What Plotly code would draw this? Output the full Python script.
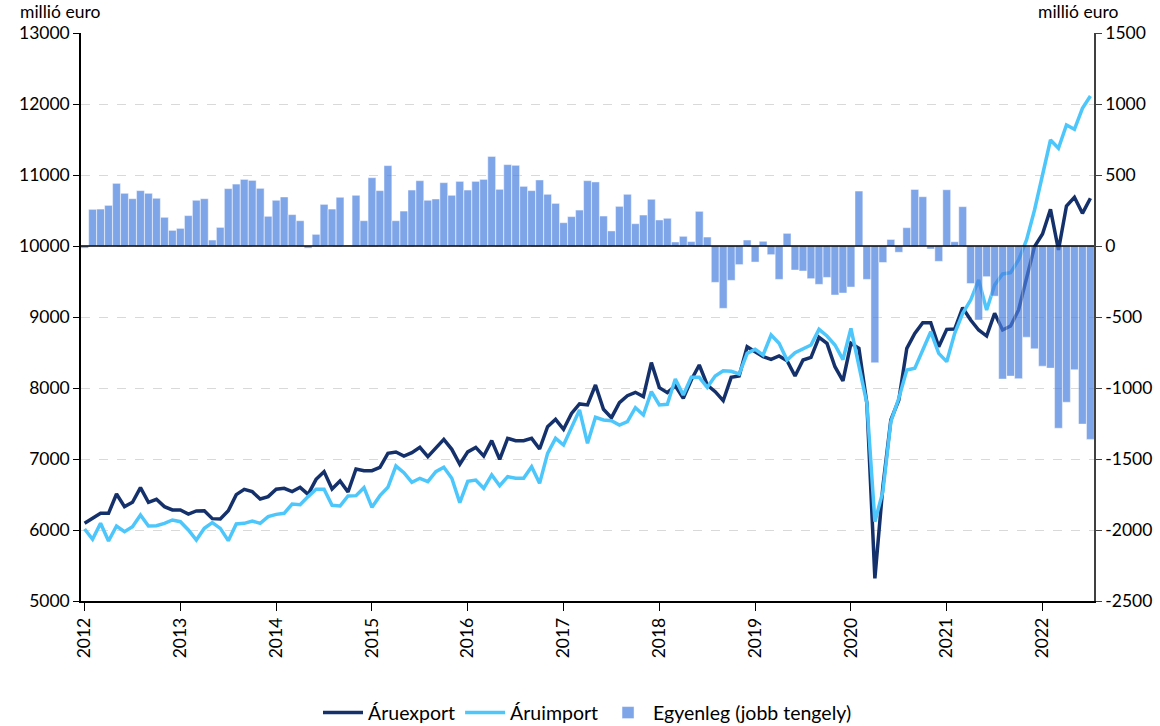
import plotly.graph_objects as go

years = [str(y) for y in range(2012, 2023)]

export = [6094, 6160, 6235, 6235, 6507, 6329, 6390, 6596, 6390, 6432, 6329, 6282,
          6282, 6225, 6268, 6270, 6160, 6155, 6270, 6498, 6573, 6540, 6437, 6470,
          6575, 6587, 6540, 6601, 6502, 6714, 6822, 6577, 6690, 6535, 6859, 6835,
          6835, 6883, 7080, 7099, 7042, 7089, 7164, 7033, 7150, 7277, 7136, 6925,
          7100, 7164, 7042, 7258, 6995, 7291, 7258, 7258, 7291, 7141, 7455, 7559,
          7418, 7643, 7775, 7761, 8042, 7700, 7582, 7794, 7892, 7939, 7878, 8357,
          8005, 7934, 8030, 7855, 8113, 8324, 8042, 7948, 7821, 8150, 8169, 8582,
          8512, 8441, 8404, 8451, 8385, 8169, 8394, 8432, 8714, 8629, 8300, 8100,
          8629, 8559, 7784, 5319, 6610, 7549, 7831, 8559, 8770, 8920, 8920, 8582,
          8826, 8830, 9131, 8958, 8817, 8732, 9052, 8817, 8873, 9099, 9545, 9991,
          10169, 10517, 9944, 10563, 10686, 10460, 10672]

imports = [6014, 5869, 6094, 5845, 6056, 5977, 6047, 6211, 6056, 6060, 6094, 6141,
           6117, 6000, 5859, 6023, 6103, 6023, 5850, 6085, 6094, 6127, 6094, 6188,
           6220, 6235, 6366, 6357, 6470, 6573, 6573, 6347, 6338, 6479, 6484, 6596,
           6319, 6484, 6601, 6901, 6808, 6671, 6728, 6681, 6822, 6883, 6728, 6385,
           6685, 6704, 6587, 6775, 6624, 6751, 6728, 6728, 6892, 6657, 7080, 7291,
           7197, 7432, 7690, 7221, 7587, 7549, 7540, 7479, 7526, 7723, 7620, 7948,
           7761, 7770, 8127, 7901, 8150, 8150, 8010, 8169, 8244, 8235, 8197, 8488,
           8545, 8465, 8746, 8629, 8394, 8497, 8545, 8606, 8826, 8732, 8606, 8400,
           8840, 8300, 7784, 6117, 6540, 7525, 7855, 8254, 8277, 8535, 8793, 8488,
           8371, 8770, 9052, 9239, 9521, 9099, 9451, 9606, 9624, 9803, 10085, 10507,
           11000, 11493, 11376, 11704, 11643, 11939, 12113]

balance = [-15, 258, 260, 286, 441, 371, 333, 390, 371, 336, 202, 110,
           124, 214, 322, 333, 42, 131, 404, 436, 469, 462, 406, 209,
           322, 345, 221, 178, -15, 82, 293, 260, 343, 5, 357, 178,
           481, 390, 566, 178, 246, 394, 460, 322, 331, 446, 357, 455,
           394, 455, 469, 631, 399, 573, 568, 420, 390, 465, 364, 300,
           164, 207, 253, 460, 451, 211, 106, 279, 364, 157, 218, 329,
           183, 195, 28, 68, 31, 244, 63, -256, -439, -242, -131, 42,
           -113, 33, -61, -235, 89, -169, -176, -230, -270, -221, -345, -331,
           -289, 387, -235, -822, -116, 46, -44, 129, 398, 347, -21, -108,
           396, 30, 277, -264, -521, -216, -353, -937, -916, -934, -642, -724,
           -846, -860, -1283, -1100, -871, -1254, -1362]

left_ticks = list(range(5000, 13001, 1000))
right_ticks = list(range(-2500, 1501, 500))

months = list(range(len(export)))
year_pos = [12 * i for i in range(len(years))]

FONT = "Lato"

fig = go.Figure()
fig.add_trace(go.Scatter(x=months, y=export, mode="lines", name="Áruexport",
                         line=dict(color="#15316b", width=3.5), yaxis="y"))
fig.add_trace(go.Scatter(x=months, y=imports, mode="lines", name="Áruimport",
                         line=dict(color="#4dc6fb", width=3.5), yaxis="y"))
fig.add_trace(go.Bar(x=months, y=balance, name="Egyenleg (jobb tengely)", yaxis="y2",
                     marker=dict(color="#4a7fe0", line=dict(color="rgba(255,255,255,0.45)", width=1)),
                     opacity=0.7))

fig.update_layout(
    width=1160, height=726,
    margin=dict(l=81, r=66, t=33, b=125, autoexpand=False),
    paper_bgcolor="white", plot_bgcolor="white",
    font=dict(family=FONT, size=17, color="black"),
    bargap=0.02,
    showlegend=True,
    legend=dict(orientation="h", x=0.5, xanchor="center", y=-0.197, yanchor="middle",
                font=dict(size=19.5), traceorder="normal", itemwidth=40),
    xaxis=dict(range=[-0.45, 126.45], tickvals=year_pos, ticktext=years, tickangle=-90,
               ticks="outside", ticklen=8, tickcolor="black", showline=True,
               linecolor="black", linewidth=1.5, showgrid=False, zeroline=False,
               tickfont=dict(size=17.5), automargin=False),
    yaxis=dict(range=[5000, 13000], tickvals=left_ticks, ticktext=[str(v) for v in left_ticks],
               showgrid=True, gridcolor="#d9d9d9", griddash="dash", gridwidth=1,
               showline=True, linecolor="black", linewidth=1.5, ticks="outside", ticklen=6,
               tickcolor="black", zeroline=False, tickfont=dict(size=17.5), automargin=False),
    yaxis2=dict(range=[-2500, 1500], overlaying="y", side="right", tickvals=right_ticks,
                ticktext=[str(v) for v in right_ticks], showgrid=False, zeroline=False,
                showline=True, linecolor="#404040", linewidth=1.5, ticks="outside",
                ticklen=6, tickcolor="#404040", tickfont=dict(size=17.5), automargin=False),
    shapes=[dict(type="line", xref="paper", x0=0, x1=1, yref="y2", y0=0, y1=0,
                 line=dict(color="black", width=1.5), layer="above")],
    annotations=[
        dict(text="millió euro", xref="paper", yref="paper", x=-0.062, y=1.038,
             xanchor="left", yanchor="middle", showarrow=False, font=dict(size=17.5)),
        dict(text="millió euro", xref="paper", yref="paper", x=1.026, y=1.038,
             xanchor="right", yanchor="middle", showarrow=False, font=dict(size=17.5)),
    ],
)

fig.write_html("out.html", config={"displayModeBar": False},
               post_script="document.body.style.margin='0';document.body.style.overflow='hidden';")
